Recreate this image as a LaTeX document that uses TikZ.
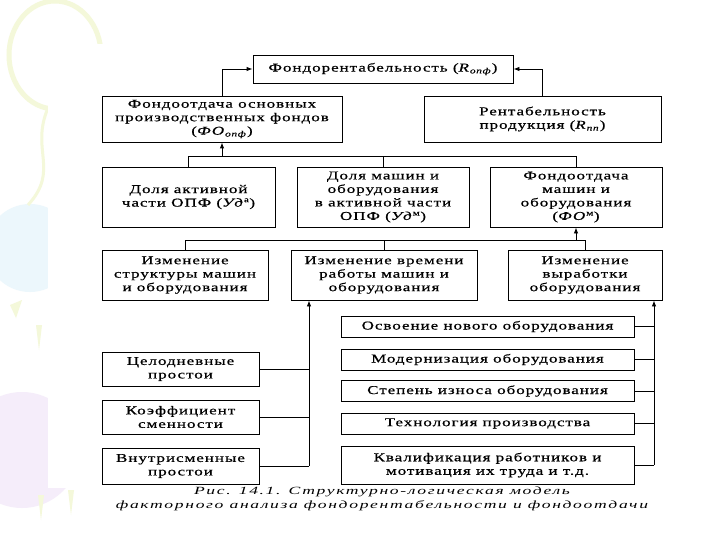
\documentclass[tikz,border=0pt]{standalone}
\usepackage{fontspec}
\setmainfont{Liberation Serif}[FakeStretch=1.42, LetterSpace=8, FakeBold=0.6]
\newfontfamily\capfont{Liberation Serif}[FakeStretch=1.6, LetterSpace=15]
\usetikzlibrary{arrows.meta}
\definecolor{decoY}{RGB}{244,248,218}
\definecolor{decoB}{RGB}{236,247,252}
\definecolor{decoP}{RGB}{245,237,250}
\begin{document}
\begin{tikzpicture}[x=1pt,y=-1pt,
  box/.style={draw=black, line width=0.9pt, align=center, inner sep=0pt,
    font=\fontsize{12}{13.5}\selectfont},
  link/.style={line width=0.9pt},
  arr/.style={line width=0.9pt, -{Latex[length=6pt,width=4.5pt]}}]
\useasboundingbox (0,0) rectangle (720,540);
\fill[white] (0,0) rectangle (720,540);
% faint background decorations
\begin{scope}
  \fill[decoP] (22,450) circle (58);
  \fill[decoB] (30,248) circle (44);
  \draw[decoY, line width=5pt] (55,55) ellipse (46 and 54);
  \draw[decoY, line width=3pt] (48,108) .. controls (30,150) and (60,170) .. (28,205);
  \fill[decoY] (10,305) -- (22,300) -- (16,318) -- cycle;
  \fill[decoY] (36,325) -- (42,325) -- (39,350) -- cycle;
  \fill[decoY] (38,495) -- (44,495) -- (41,520) -- cycle;
  \fill[decoY] (68,490) -- (74,490) -- (71,515) -- cycle;
\end{scope}
\fill[white] (48,44) rectangle (720,488);
\fill[white] (80,488) rectangle (720,540);

% nodes
\node[box, minimum width=260, minimum height=28] (top) at (383,69)
  {Фондорентабельность (\textit{R}\textsubscript{\textit{опф}})};
\node[box, minimum width=240, minimum height=46] (fo) at (222,119)
  {Фондоотдача основных\\производственных фондов\\(\textit{ФО}\textsubscript{\textit{опф}})};
\node[box, minimum width=237, minimum height=46] (rent) at (542.5,119)
  {Рентабельность\\продукция (\textit{R}\textsubscript{\textit{пп}})};

\node[box, minimum width=173, minimum height=60] (a1) at (188.5,197)
  {Доля активной\\части ОПФ (\textit{Уд}\textsuperscript{а})};
\node[box, minimum width=172, minimum height=60] (a2) at (383,197)
  {Доля машин и\\оборудования\\в активной части\\ОПФ (\textit{Уд}\textsuperscript{м})};
\node[box, minimum width=172, minimum height=60] (a3) at (576,197)
  {Фондоотдача\\машин и\\оборудования\\(\textit{ФО}\textsuperscript{м})};

\node[box, minimum width=166, minimum height=50] (b1) at (185,275)
  {Изменение\\структуры машин\\и оборудования};
\node[box, minimum width=186, minimum height=50] (b2) at (384,275)
  {Изменение времени\\работы машин и\\оборудования};
\node[box, minimum width=154, minimum height=50] (b3) at (585,275)
  {Изменение\\выработки\\оборудования};

\node[box, minimum width=157, minimum height=34] (c1) at (180.5,369)
  {Целодневные\\простои};
\node[box, minimum width=157, minimum height=34] (c2) at (180.5,417)
  {Коэффициент\\сменности};
\node[box, minimum width=157, minimum height=36] (c3) at (180.5,466)
  {Внутрисменные\\простои};

\node[box, minimum width=293, minimum height=21] (d1) at (487.5,326.5)
  {Освоение нового оборудования};
\node[box, minimum width=293, minimum height=21] (d2) at (487.5,359.5)
  {Модернизация оборудования};
\node[box, minimum width=293, minimum height=21] (d3) at (487.5,391)
  {Степень износа оборудования};
\node[box, minimum width=293, minimum height=21] (d4) at (487.5,423.5)
  {Технология производства};
\node[box, minimum width=293, minimum height=38] (d5) at (487.5,465)
  {Квалификация работников и\\мотивация их труда и т.д.};

\node[font=\capfont\itshape\fontsize{11}{14}\selectfont, align=center, inner sep=0pt]
  (cap) at (382,499)
  {Рис. 14.1. Структурно-логическая модель\\факторного анализа фондорентабельности и фондоотдачи};

% helper coordinates
\coordinate (y1) at (0,156);
\coordinate (y2) at (0,240);
\coordinate (L) at (309,0);
\coordinate (R) at (654,0);

% top connectors
\draw[arr] (fo.north) |- (top.west);
\draw[arr] (rent.north) |- (top.east);

% bus 1
\draw[link] (a1.north) -- (a1.north |- y1) -- (a3.north |- y1) -- (a3.north);
\draw[link] (a2.north) -- (a2.north |- y1);
\draw[arr] (fo.south |- y1) -- (fo.south);

% bus 2
\draw[link] (b1.north) -- (b1.north |- y2) -- (b3.north |- y2) -- (b3.north);
\draw[link] (b2.north) -- (b2.north |- y2);
\draw[arr] (a3.south |- y2) -- (a3.south);

% left group
\draw[link] (c1.east) -- (c1.east -| L);
\draw[link] (c2.east) -- (c2.east -| L);
\draw[link] (c3.east) -- (c3.east -| L);
\draw[arr] (c3.east -| L) -- (b2.south -| L);

% right group
\draw[link] (d1.east) -- (d1.east -| R);
\draw[link] (d2.east) -- (d2.east -| R);
\draw[link] (d3.east) -- (d3.east -| R);
\draw[link] (d4.east) -- (d4.east -| R);
\draw[link] (d5.east) -- (d5.east -| R);
\draw[arr] (d5.east -| R) -- (b3.south -| R);
\end{tikzpicture}
\end{document}
